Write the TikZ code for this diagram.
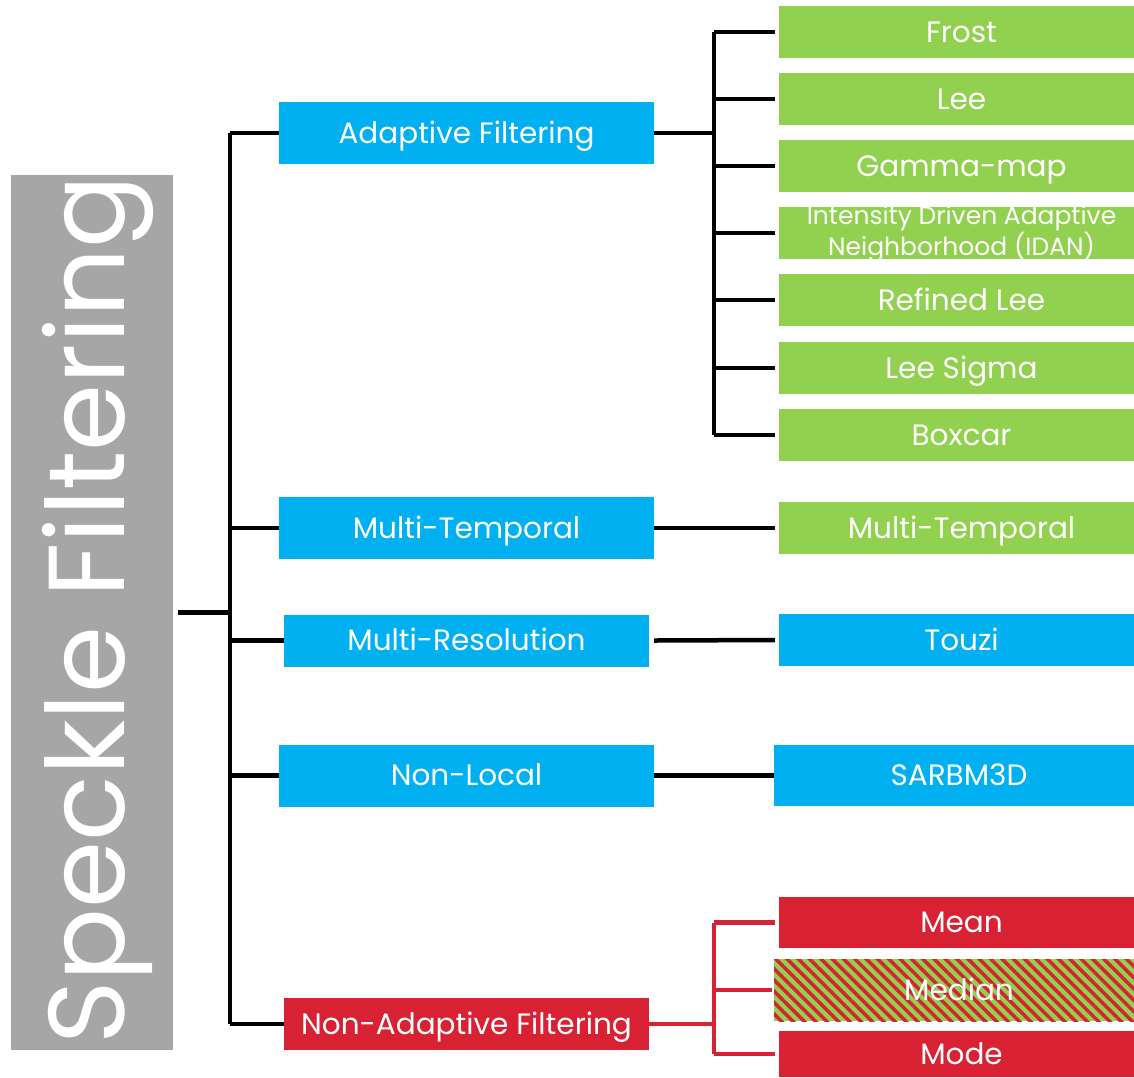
\documentclass[tikz,border=0pt]{standalone}
\usepackage{fontspec}
\setmainfont{Poppins}
\usetikzlibrary{patterns.meta}
\definecolor{cblue}{HTML}{00B0F0}
\definecolor{cgreen}{HTML}{92D050}
\definecolor{cred}{HTML}{D92134}
\definecolor{cgray}{HTML}{A6A6A6}
\begin{document}
\begin{tikzpicture}[x=1pt,y=-1pt,
  box/.style={draw=none, text=white, inner sep=0pt, anchor=center,
    text height=20.5pt, text depth=0pt,
    font=\fontsize{29.5}{32}\selectfont},
  lone/.style={box, fill=cblue, minimum width=375pt, minimum height=62pt},
  lonen/.style={box, fill=cblue, minimum width=365pt, minimum height=52pt},
  leaf/.style={box, fill=cgreen, minimum width=365pt, minimum height=52pt},
  conn/.style={line width=4.5pt, draw=black},
  rconn/.style={line width=4.5pt, draw=cred}]
\useasboundingbox (0,0) rectangle (1134,1077);
% left title
\node[fill=cgray, minimum width=162pt, minimum height=875pt, inner sep=0pt] (sf) at (92,612.5) {};
\node[rotate=90, text=white, font=\fontsize{108}{110}\selectfont, inner sep=0pt] (sft) at (98,610) {Speckle Filtering};
% level 1
\node[lone] (af) at (466.5,133) {Adaptive Filtering};
\node[lone] (mt) at (466.5,528) {Multi-Temporal};
\node[lonen] (mr) at (466.5,640.5) {Multi-Resolution};
\node[lone] (nl) at (466.5,775.5) {Non-Local};
\node[lonen, fill=cred] (naf) at (466.5,1024) {Non-Adaptive Filtering};
% leaves
\node[leaf] (frost) at (961.5,32) {Frost};
\node[leaf] (lee) at (961.5,99) {Lee};
\node[leaf] (gm) at (961.5,166) {Gamma-map};
\node[leaf, align=center, text height=45pt, text depth=0pt, font=\fontsize{25}{27.5}\selectfont] (idan) at (961.5,233) {Intensity Driven Adaptive\\Neighborhood (IDAN)};
\node[leaf] (rl) at (961.5,300) {Refined Lee};
\node[leaf] (ls) at (961.5,368) {Lee Sigma};
\node[leaf] (bc) at (961.5,435) {Boxcar};
\node[leaf] (mtl) at (961.5,528) {Multi-Temporal};
\node[leaf, fill=cblue] (tz) at (961.5,640) {Touzi};
\node[leaf, fill=cblue, minimum width=370pt, minimum height=61pt] (sar) at (959,775.5) {SARBM3D};
\node[leaf, fill=cred, minimum height=51pt] (mean) at (961.5,922.5) {Mean};
\node[leaf, minimum width=370pt, minimum height=62pt, pattern={Lines[angle=-45,distance=8pt,line width=3.5pt]}, pattern color=cred, preaction={fill=cgreen}] (med) at (959,990) {Median};
\node[leaf, fill=cred, minimum height=46pt] (mode) at (961.5,1054) {Mode};
% coordinates
\coordinate (trunk) at (230,0);
\coordinate (b1) at (714,0);
% trunk connectors
\draw[conn] ([xshift=5pt]sf.east) -- (trunk |- sf.east);
\draw[conn] (trunk |- af.west) -- (trunk |- naf.west);
\foreach \n in {af,mt,mr,nl,naf}
  \draw[conn] (trunk |- \n.west) -- (\n.west);
% adaptive bracket
\draw[conn] (af.east) -- (b1 |- af.east);
\draw[conn] (b1 |- frost.west) -- (b1 |- bc.west);
\foreach \n in {frost,lee,gm,idan,rl,ls,bc}
  \draw[conn] (b1 |- \n.west) -- ([xshift=-4pt]\n.west);
% single links
\draw[conn] (mt.east) -- ([xshift=-4pt]mtl.west);
\draw[conn] ([xshift=5pt]mr.east) -- ([xshift=-4pt]tz.west);
\draw[conn] (nl.east) -- (sar.west);
% non-adaptive bracket
\draw[rconn] (naf.east) -- (b1 |- naf.east);
\draw[rconn] (b1 |- mean.west) -- (b1 |- mode.west);
\draw[rconn] (b1 |- mean.west) -- ([xshift=-4pt]mean.west);
\draw[rconn] (b1 |- med.west) -- (med.west);
\draw[rconn] (b1 |- mode.west) -- ([xshift=-4pt]mode.west);
\end{tikzpicture}
\end{document}
